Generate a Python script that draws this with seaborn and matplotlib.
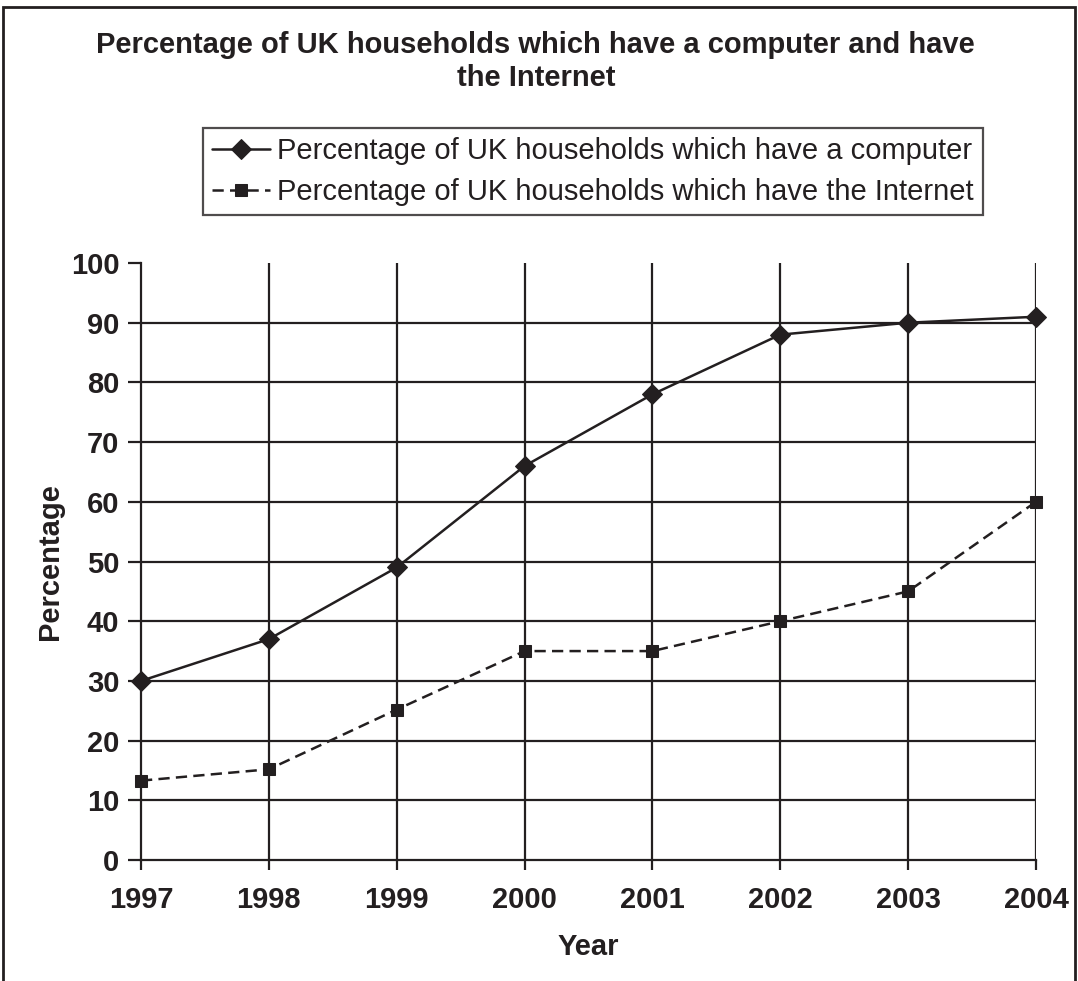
import matplotlib
matplotlib.use("Agg")
import matplotlib.pyplot as plt
import seaborn as sns
from matplotlib.patches import Rectangle

years = [1997, 1998, 1999, 2000, 2001, 2002, 2003, 2004]
computer_pct = [30, 37, 49, 66, 78, 88, 90, 91]
internet_pct = [13.3, 15.2, 25.2, 35, 35, 40, 45, 60]

label_computer = "Percentage of UK households which have a computer"
label_internet = "Percentage of UK households which have the Internet"
title = "Percentage of UK households which have a computer and have\nthe Internet"

INK = "#231f20"
FS = 21

sns.set_theme(style="white")
plt.rcParams["font.family"] = ["Liberation Sans", "DejaVu Sans"]

fig = plt.figure(figsize=(10.78, 9.81), dpi=100)
ax = fig.add_axes([0.1308, 0.1233, 0.961 - 0.1308, 0.7319 - 0.1233])

sns.lineplot(x=years, y=computer_pct, ax=ax, color=INK, lw=1.8,
             marker="D", markersize=10, markeredgecolor=INK, label=label_computer,
             clip_on=False, zorder=5)
sns.lineplot(x=years, y=internet_pct, ax=ax, color=INK, lw=1.8, linestyle=(0, (4.5, 2.5)),
             marker="s", markersize=9, markeredgecolor=INK, label=label_internet,
             clip_on=False, zorder=5)

ax.set_xlim(1997, 2004)
ax.set_ylim(0, 100)
ax.set_xticks(years)
ax.set_yticks(range(0, 101, 10))
ax.set_xticklabels([str(y) for y in years])

# grid: horizontal lines 10..90, vertical lines at every year
for v in range(10, 100, 10):
    ax.axhline(v, color=INK, lw=1.6, zorder=0)
for y in years[1:]:
    ax.axvline(y, color=INK, lw=1.6, zorder=0)

for side in ["top", "right"]:
    ax.spines[side].set_visible(False)
for side in ["left", "bottom"]:
    ax.spines[side].set_color(INK)
    ax.spines[side].set_linewidth(1.6)

ax.tick_params(axis="both", direction="out", width=1.6, color=INK,
               labelsize=FS, labelcolor=INK, left=True, bottom=True)
ax.tick_params(axis="x", length=7.5, pad=11)
ax.tick_params(axis="y", length=9.5, pad=6)
for lbl in ax.get_xticklabels() + ax.get_yticklabels():
    lbl.set_fontweight("bold")

ax.set_xlabel("Year", fontsize=FS, fontweight="bold", color=INK, labelpad=14)
ax.set_ylabel("Percentage", fontsize=FS, fontweight="bold", color=INK, labelpad=5)

fig.text(0.497, 0.968, title, ha="center", va="top", fontsize=FS,
         fontweight="bold", color=INK, linespacing=1.2)

leg = ax.legend(loc="upper left", bbox_to_anchor=(203 / 1078, 1 - 128 / 981),
                bbox_transform=fig.transFigure, fontsize=FS, frameon=True,
                fancybox=False, edgecolor=INK, handlelength=2.0, handletextpad=0.25,
                borderpad=0.3, labelspacing=0.47, borderaxespad=0)
leg.get_frame().set_linewidth(1.6)
for t in leg.get_texts():
    t.set_color(INK)

# outer frame around the figure (bottom edge runs off the canvas)
fig.patches.append(Rectangle((3 / 1078, -0.05), (1075 - 3) / 1078, 1 - 7 / 981 + 0.05,
                             transform=fig.transFigure, fill=False,
                             edgecolor=INK, lw=2))

fig.savefig("out.png", dpi=100)
